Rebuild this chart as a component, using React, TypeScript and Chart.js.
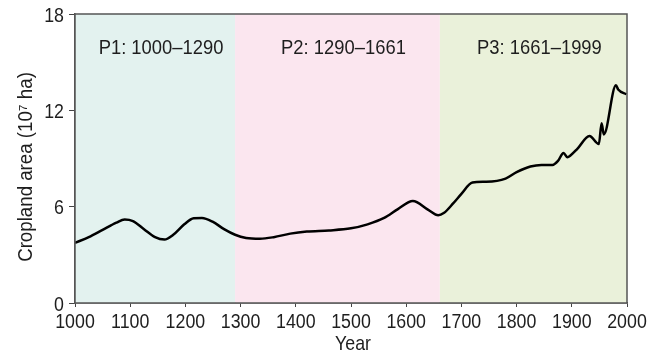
import React, { useEffect, useRef } from "react";
import { Chart, registerables } from "chart.js";

Chart.register(...registerables);

const years = [
  1000, 1025, 1050, 1075, 1090, 1105, 1125, 1145, 1162, 1178, 1198, 1215, 1230, 1250, 1270, 1290,
  1310, 1335, 1360, 1390, 1420, 1460, 1500, 1530, 1560, 1585, 1612, 1640, 1658,
  1668, 1685, 1700, 1720, 1745, 1780, 1800, 1825, 1845, 1865, 1875, 1885, 1892, 1898, 1910,
  1932, 1949, 1954, 1958, 1980, 1984, 1999,
];
const cropland = [
  3.75, 4.1, 4.55, 5.0, 5.2, 5.1, 4.6, 4.1, 3.95, 4.25, 4.9, 5.28, 5.3, 5.05, 4.6, 4.25,
  4.05, 4.0, 4.1, 4.32, 4.45, 4.52, 4.65, 4.9, 5.3, 5.85, 6.35, 5.8, 5.46,
  5.6, 6.2, 6.8, 7.5, 7.55, 7.75, 8.15, 8.5, 8.6, 8.6, 8.85, 9.35, 9.08, 9.2, 9.6,
  10.4, 9.9, 11.2, 10.5, 13.56, 13.3, 13.0,
];
const periodStarts = [1000, 1290, 1661];
const periodEnds = [1290, 1661, 2000];
const periodLabels = ["P1: 1000\u20131290", "P2: 1290\u20131661", "P3: 1661\u20131999"];
const periodColors = ["#e3f2ef", "#fbe6ef", "#eaf1da"];
const xTickValues = [1000, 1100, 1200, 1300, 1400, 1500, 1600, 1700, 1800, 1900, 2000];
const yTicks = [0, 6, 12, 18];
const xTitle = "Year";
const yTitle = "Cropland area (10\u2077 ha)";

const FONT = "'Liberation Sans', Arial, Helvetica, sans-serif";
const TEXT = "#1e1e1e";
const STRETCH = 1.12;

function stretchedText(ctx: any, text: string, x: number, y: number, align: string, sy: number) {
  ctx.save();
  ctx.translate(x, y);
  ctx.scale(1, sy);
  ctx.textAlign = align;
  ctx.textBaseline = "alphabetic";
  ctx.fillText(text, 0, 0);
  ctx.restore();
}

const bandsPlugin = {
  id: "bands",
  beforeDatasetsDraw(chart: any) {
    const { ctx, chartArea, scales } = chart;
    const x = scales.x;
    ctx.save();
    for (let i = 0; i < periodStarts.length; i++) {
      const x0 = x.getPixelForValue(periodStarts[i]);
      const x1 = x.getPixelForValue(periodEnds[i]);
      ctx.fillStyle = periodColors[i];
      ctx.fillRect(x0, chartArea.top, x1 - x0, chartArea.bottom - chartArea.top);
    }
    ctx.fillStyle = TEXT;
    ctx.font = `18.4px ${FONT}`;
    for (let i = 0; i < periodStarts.length; i++) {
      const x0 = x.getPixelForValue(periodStarts[i]);
      const x1 = x.getPixelForValue(periodEnds[i]);
      stretchedText(ctx, periodLabels[i], (x0 + x1) / 2 + 6, chartArea.top + 40, "center", 1.1);
    }
    ctx.restore();
  },
  afterDatasetsDraw(chart: any) {
    const { ctx, chartArea, scales } = chart;
    ctx.save();
    ctx.strokeStyle = "#555";
    ctx.lineWidth = 1.5;
    ctx.strokeRect(chartArea.left, chartArea.top, chartArea.right - chartArea.left, chartArea.bottom - chartArea.top);
    ctx.fillStyle = TEXT;
    ctx.font = `17.8px ${FONT}`;
    for (const v of xTickValues) {
      stretchedText(ctx, String(v), scales.x.getPixelForValue(v), 328, "center", STRETCH);
    }
    for (const v of yTicks) {
      stretchedText(ctx, String(v), 64, scales.y.getPixelForValue(v) + 7.5, "right", STRETCH);
    }
    stretchedText(ctx, xTitle, (chartArea.left + chartArea.right) / 2 + 2, 350, "center", STRETCH);
    ctx.translate(31.5, 167);
    ctx.rotate(-Math.PI / 2);
    ctx.scale(0.935, 1);
    ctx.font = `20px ${FONT}`;
    ctx.textAlign = "center";
    ctx.textBaseline = "alphabetic";
    ctx.fillText(yTitle, 0, 0);
    ctx.restore();
  },
};

export default function App() {
  const ref = useRef<HTMLCanvasElement>(null);
  useEffect(() => {
    document.body.style.margin = "0";
    const chart = new Chart(ref.current!, {
      type: "line",
      data: {
        datasets: [
          {
            data: years.map((y, i) => ({ x: y, y: cropland[i] })),
            borderColor: "#000",
            borderWidth: 2.5,
            pointRadius: 0,
            cubicInterpolationMode: "monotone",
            fill: false,
          },
        ],
      },
      options: {
        responsive: false,
        animation: false,
        layout: { padding: { left: 0, right: 32, top: 14, bottom: 0 } },
        plugins: { legend: { display: false }, tooltip: { enabled: false } },
        scales: {
          x: {
            type: "linear",
            min: 1000,
            max: 2000,
            afterFit(s: any) {
              s.height = 53;
            },
            afterBuildTicks(s: any) {
              s.ticks = xTickValues.map((v) => ({ value: v }));
            },
            ticks: { display: false },
            grid: { drawOnChartArea: false, drawTicks: true, tickLength: 4, color: "#444" },
            border: { display: true, color: "#555", width: 1.5 },
          },
          y: {
            min: 0,
            max: 18,
            afterBuildTicks(s: any) {
              s.ticks = yTicks.map((v) => ({ value: v }));
            },
            afterFit(s: any) {
              s.width = 75;
            },
            ticks: { display: false },
            grid: { drawOnChartArea: false, drawTicks: true, tickLength: 6, color: "#444" },
            border: { display: true, color: "#555", width: 1.5 },
          },
        },
      },
      plugins: [bandsPlugin],
    } as any);
    return () => chart.destroy();
  }, []);
  return <canvas ref={ref} width={659} height={356} style={{ display: "block" }} />;
}
